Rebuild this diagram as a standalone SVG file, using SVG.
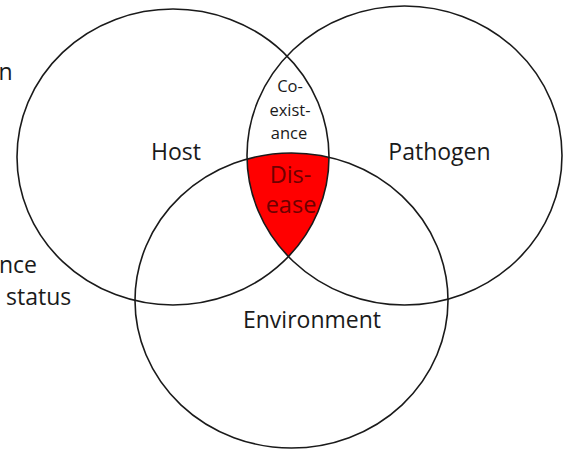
<svg xmlns="http://www.w3.org/2000/svg" width="563" height="449" viewBox="0 0 563 449">
  <style>
    .ring { fill: none; stroke: #1a1a1a; stroke-width: 1.6; }
    .lbl { font-family: "Open Sans", "Noto Sans", sans-serif; fill: #1a1a1a; }
    .big { font-size: 23px; }
    .small { font-size: 16.5px; }
    .dis { font-family: "Open Sans", "Noto Sans", sans-serif; font-size: 23.5px; fill: #6e0000; }
  </style>
  <defs>
    <clipPath id="clipHost"><ellipse cx="173" cy="157" rx="156" ry="148"/></clipPath>
    <clipPath id="clipEnv"><ellipse cx="291.5" cy="300.5" rx="156.5" ry="147.5"/></clipPath>
  </defs>
  <rect width="563" height="449" fill="#ffffff"/>
  <g id="disease-region" clip-path="url(#clipHost)">
    <g clip-path="url(#clipEnv)">
      <ellipse cx="404.5" cy="155.5" rx="157.5" ry="149.5" fill="#ff0000"/>
    </g>
  </g>
  <g id="host">
    <ellipse class="ring" cx="173" cy="157" rx="156" ry="148"/>
    <text class="lbl big" x="176" y="160" text-anchor="middle">Host</text>
  </g>
  <g id="pathogen">
    <ellipse class="ring" cx="404.5" cy="155.5" rx="157.5" ry="149.5"/>
    <text class="lbl big" x="439.5" y="160" text-anchor="middle">Pathogen</text>
  </g>
  <g id="environment">
    <ellipse class="ring" cx="291.5" cy="300.5" rx="156.5" ry="147.5"/>
    <text class="lbl big" x="312" y="328" text-anchor="middle">Environment</text>
  </g>
  <g id="coexistance">
    <text class="lbl small" x="290" y="92" text-anchor="middle">Co-</text>
    <text class="lbl small" x="290" y="116" text-anchor="middle">exist-</text>
    <text class="lbl small" x="289" y="139" text-anchor="middle">ance</text>
  </g>
  <g id="disease">
    <text class="dis" x="290.5" y="183" text-anchor="middle">Dis-</text>
    <text class="dis" x="291" y="213" text-anchor="middle">ease</text>
  </g>
  <g id="cut-labels">
    <text class="lbl big" x="-1.5" y="80">n</text>
    <text class="lbl big" x="-1" y="273">nce</text>
    <text class="lbl big" x="6" y="304.5">status</text>
  </g>
</svg>
